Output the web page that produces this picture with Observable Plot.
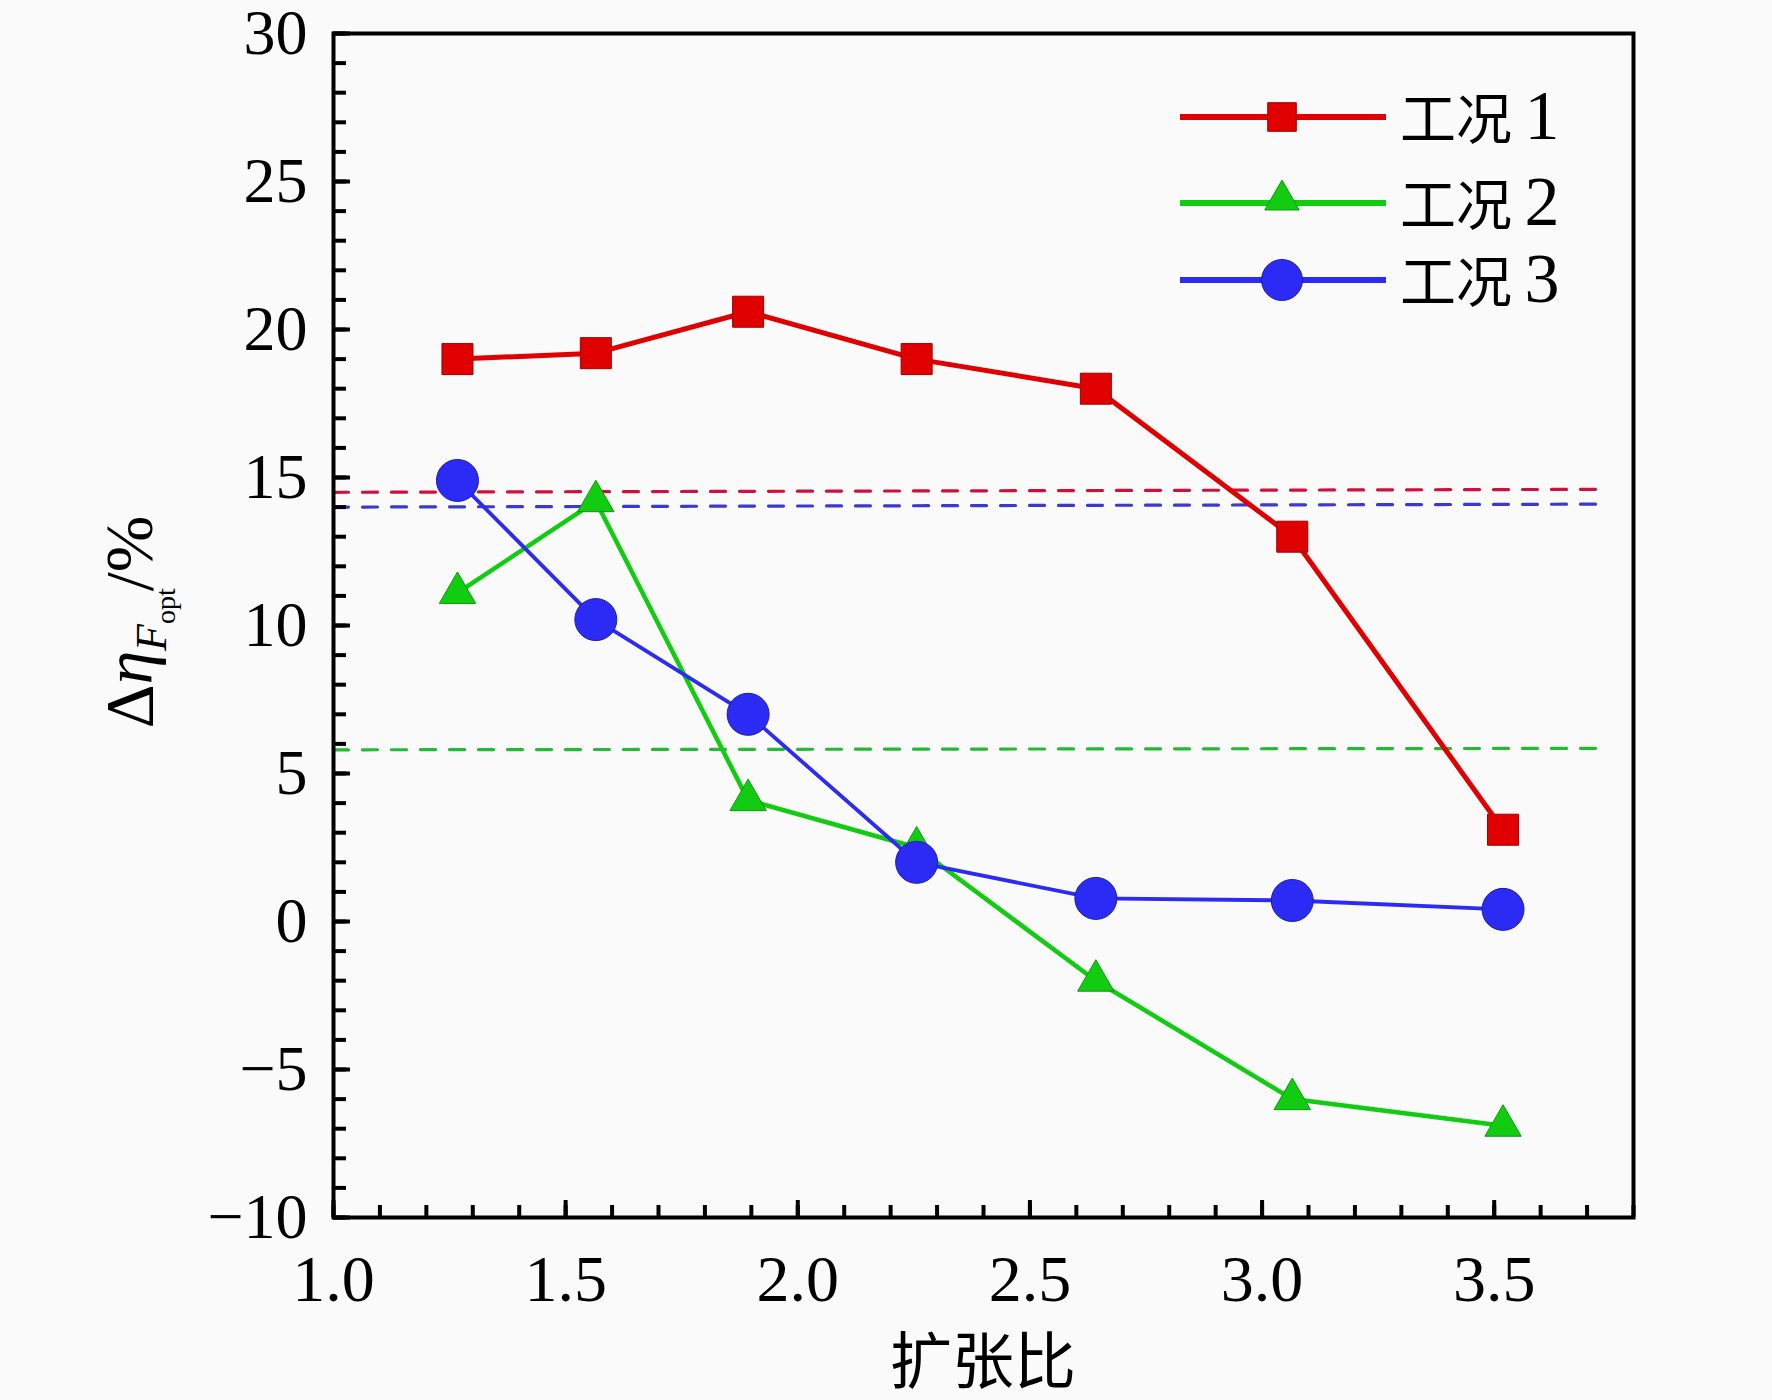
<!DOCTYPE html>
<html>
<head>
<meta charset="utf-8">
<script src="https://cdn.jsdelivr.net/npm/d3@7"></script>
<script src="https://cdn.jsdelivr.net/npm/@observablehq/plot@0.6"></script>
<style>
  html, body { margin: 0; padding: 0; background: #fafafa; }
  #chart svg { display: block; }
</style>
</head>
<body>
<div id="chart"></div>
<script>
// ---- data ----
const expansionRatio = [1.267, 1.565, 1.893, 2.256, 2.642, 3.065, 3.519];
const case1 = [19.0, 19.2, 20.6, 19.0, 18.0, 13.0, 3.1];
const case2 = [11.1, 14.2, 4.1, 2.5, -2.0, -6.0, -6.9];
const case3 = [14.9, 10.2, 7.0, 2.0, 0.78, 0.71, 0.41];
const seriesNames = ["工况 1", "工况 2", "工况 3"];
const refX = [1.0, 3.73];
const ref1 = [14.5, 14.6];
const ref2 = [5.8, 5.85];
const ref3 = [14.0, 14.1];
const xMajor = [1.0, 1.5, 2.0, 2.5, 3.0, 3.5];
const xMinor = d3.range(10, 39).map(d => d / 10);
const yMajor = [-10, -5, 0, 5, 10, 15, 20, 25, 30];
const yMinor = d3.range(-10, 31);
const xTitle = "扩张比";

// ---- styling ----
const colors = ["#e00000", "#11cc11", "#2b2bf5"];
const edge = ["#a00000", "#0a9a0a", "#1a1ab0"];
const refColors = ["#d0103c", "#22bb33", "#3a3ad0"];
const symbols = ["square", "triangle", "circle"];
const radii = [17.5, 13.5, 21];
const widths = [5, 4.5, 3.8];

const series = [case1, case2, case3].map(vals => expansionRatio.map((x, i) => ({x, y: vals[i]})));
const refs = [ref1, ref2, ref3].map(vals => refX.map((x, i) => ({x, y: vals[i]})));

const W = 1772, H = 1400;
const mL = 333, mR = 139, mT = 33, mB = 183;

const marks = [];
refs.forEach((r, i) => marks.push(Plot.line(r, {x: "x", y: "y", stroke: refColors[i], strokeWidth: 3.2, strokeDasharray: "15,14"})));
series.forEach((s, i) => marks.push(Plot.line(s, {x: "x", y: "y", stroke: colors[i], strokeWidth: widths[i], strokeLinejoin: "round"})));
series.forEach((s, i) => marks.push(Plot.dot(s, {x: "x", y: "y", symbol: symbols[i], r: radii[i], fill: colors[i], stroke: edge[i], strokeWidth: 1})));

marks.push(
  Plot.axisX(xMinor, {tickSize: -12, text: null, strokeWidth: 4, label: null}),
  Plot.axisX(xMajor, {tickSize: -17, text: null, strokeWidth: 4, label: null}),
  Plot.axisX(xMajor, {tickSize: 0, tickPadding: 37, tickFormat: d3.format(".1f"), fontSize: 66, label: null}),
  Plot.axisY(yMinor, {tickSize: -13, text: null, strokeWidth: 4, label: null}),
  Plot.axisY(yMajor, {tickSize: -17, text: null, strokeWidth: 4, label: null}),
  Plot.axisY(yMajor, {tickSize: 0, tickPadding: 26, fontSize: 64, label: null}),
  Plot.frame({stroke: "black", strokeWidth: 4})
);

const chart = Plot.plot({
  width: W, height: H,
  marginLeft: mL, marginRight: mR, marginTop: mT, marginBottom: mB,
  x: {domain: [1.0, 3.8]},
  y: {domain: [-10, 30]},
  style: {background: "transparent", fontFamily: "'Liberation Serif', 'Times New Roman', serif", fontSize: "64px", color: "black", overflow: "visible"},
  marks
});

const svg = d3.select(chart);

// x-axis title
svg.append("text")
  .attr("x", (mL + W - mR) / 2)
  .attr("y", 1384)
  .attr("text-anchor", "middle")
  .attr("font-family", "'Noto Sans CJK SC', sans-serif")
  .attr("font-size", 62)
  .attr("fill", "black")
  .text(xTitle);

// y-axis title: Δη_{F_opt}/%
const yt = svg.append("text")
  .attr("transform", "translate(152,622) rotate(-90)")
  .attr("text-anchor", "middle")
  .attr("font-family", "'Liberation Serif', serif")
  .attr("font-size", 68)
  .attr("fill", "black");
yt.append("tspan").text("Δ");
yt.append("tspan").attr("font-style", "italic").text("η");
yt.append("tspan").attr("font-style", "italic").attr("font-size", 44).attr("dy", 14).text("F");
yt.append("tspan").attr("font-size", 28).attr("dy", 9).text("opt");
yt.append("tspan").attr("dy", -23).attr("dx", -3).text("/%");

// legend
const legY = [117, 203, 280];
const lg = svg.append("g").attr("text-anchor", "start");
seriesNames.forEach((name, i) => {
  lg.append("line")
    .attr("x1", 1180).attr("x2", 1386)
    .attr("y1", legY[i]).attr("y2", legY[i])
    .attr("stroke", colors[i]).attr("stroke-width", 6);
  const sym = d3.symbol().type(i === 0 ? d3.symbolSquare : i === 1 ? d3.symbolTriangle : d3.symbolCircle)
    .size(Math.PI * radii[i] * radii[i] * (i === 0 ? 0.85 : i === 1 ? 0.9 : 0.95));
  lg.append("path")
    .attr("d", sym())
    .attr("transform", `translate(1282,${legY[i] + (i === 1 ? -3 : 0)})`)
    .attr("fill", colors[i]).attr("stroke", edge[i]).attr("stroke-width", 1);
  const t = lg.append("text")
    .attr("x", 1400).attr("y", legY[i] + 22)
    .attr("text-anchor", "start")
    .attr("font-family", "'Liberation Serif', 'Noto Sans CJK SC', serif")
    .attr("fill", "black");
  const parts = name.split(" ");
  t.append("tspan").attr("font-family", "'Noto Sans CJK SC', sans-serif").attr("font-size", 56).text(parts[0] + " ");
  t.append("tspan").attr("font-size", 70).text(parts[1]);
});

document.getElementById("chart").appendChild(chart);
</script>
</body>
</html>
